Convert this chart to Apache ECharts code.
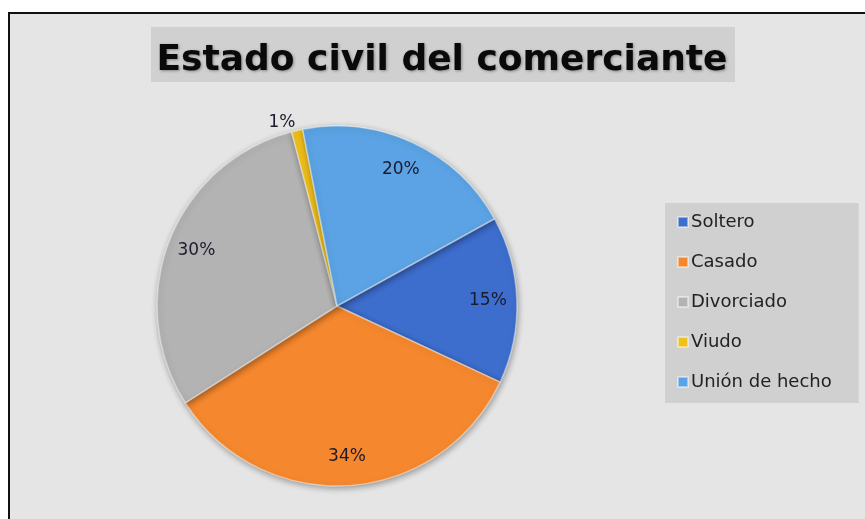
<!DOCTYPE html>
<html>
<head>
<meta charset="utf-8">
<style>
  html, body { margin: 0; padding: 0; background: #ffffff; }
  #chart { width: 865px; height: 519px; }
</style>
<script src="https://cdn.jsdelivr.net/npm/echarts@6/dist/echarts.min.js"></script>
</head>
<body>
<div id="chart"></div>
<script>
// Estado civil del comerciante — porcentajes por categoría
const categories = ['Soltero', 'Casado', 'Divorciado', 'Viudo', 'Unión de hecho'];
const values = [15, 34, 30, 1, 20];
const colors = ['#3d6ecd', '#f5882e', '#b3b3b3', '#f0c01c', '#5ba3e4'];
const titleText = 'Estado civil del comerciante';

const chart = echarts.init(document.getElementById('chart'), null, { renderer: 'canvas' });

const pieData = categories.map((name, i) => ({
  name: name,
  value: values[i],
  itemStyle: { color: colors[i] }
}));

// Label ring: same data, transparent, so inside labels sit near the rim
const labelData = categories.map((name, i) => {
  const d = { name: name, value: values[i], itemStyle: { color: 'rgba(0,0,0,0)' } };
  if (values[i] < 3) {
    d.label = { position: 'outside', distanceToLabelLine: 0 };
    d.labelLine = { show: false, length: 8, length2: 0 };
  }
  return d;
});

const center = [337, 306];
const R = 180;

chart.setOption({
  backgroundColor: '#ffffff',
  animation: false,
  graphic: [
    { type: 'rect', z: -10, shape: { x: 8, y: 12, width: 857, height: 507 },
      style: { fill: '#e6e5e5', stroke: null } },
    { type: 'line', z: -9, shape: { x1: 9, y1: 12, x2: 9, y2: 519 },
      style: { stroke: '#111', lineWidth: 2 } },
    { type: 'line', z: -9, shape: { x1: 8, y1: 13, x2: 865, y2: 13 },
      style: { stroke: '#111', lineWidth: 2 } },
    { type: 'rect', z: -8, shape: { x: 151, y: 27, width: 584, height: 55 },
      style: { fill: '#d1d0d0' } }
  ],
  title: {
    text: titleText,
    left: 437,
    top: 38,
    textAlign: 'center',
    textStyle: {
      fontFamily: 'DejaVu Sans',
      fontWeight: 'bold',
      fontSize: 36,
      color: '#0a0a0a',
      textShadowColor: 'rgba(0,0,0,0.35)',
      textShadowBlur: 3,
      textShadowOffsetX: 1,
      textShadowOffsetY: 1
    }
  },
  legend: {
    orient: 'vertical',
    left: 665,
    top: 203,
    backgroundColor: '#d1d0d0',
    padding: [10, 27, 12, 12],
    itemWidth: 10,
    itemHeight: 10,
    itemGap: 22,
    icon: 'rect',
    data: categories,
    textStyle: {
      fontFamily: 'DejaVu Sans',
      fontSize: 18,
      lineHeight: 18,
      color: '#222222',
      padding: [0, 0, 0, -2]
    }
  },
  series: [
    {
      type: 'pie',
      name: 'Estado civil',
      center: center,
      radius: R,
      startAngle: 29,
      clockwise: true,
      data: pieData,
      label: { show: false },
      labelLine: { show: false },
      itemStyle: {
        borderColor: 'rgba(255,255,255,0.45)',
        borderWidth: 1.5,
        shadowBlur: 6,
        shadowColor: 'rgba(0,0,0,0.35)',
        shadowOffsetX: 1,
        shadowOffsetY: 2
      },
      emphasis: { disabled: true }
    },
    {
      type: 'pie',
      name: 'Etiquetas',
      center: center,
      radius: [116, R],
      startAngle: 29,
      clockwise: true,
      data: labelData,
      silent: true,
      legendHoverLink: false,
      label: {
        show: true,
        position: 'inside',
        formatter: '{c}%',
        fontFamily: 'DejaVu Sans',
        fontSize: 17,
        color: '#1b1b2e'
      },
      labelLine: { show: false },
      emphasis: { disabled: true }
    }
  ]
});
</script>
</body>
</html>
